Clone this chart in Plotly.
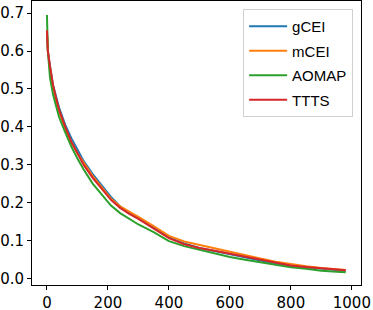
import plotly.graph_objects as go

iterations = [0, 3, 10, 20, 30, 40, 60, 80, 100, 120, 150, 180, 210, 240, 270, 300,
              350, 400, 450, 500, 550, 600, 650, 700, 750, 800, 850, 900, 950, 980]

gcei = [0.645, 0.60, 0.56, 0.51, 0.48, 0.45, 0.405, 0.37, 0.34, 0.31, 0.275, 0.245,
        0.215, 0.19, 0.172, 0.158, 0.133, 0.108, 0.092, 0.080, 0.072, 0.063, 0.055,
        0.047, 0.040, 0.033, 0.029, 0.025, 0.022, 0.020]
mcei = [0.65, 0.60, 0.555, 0.505, 0.47, 0.44, 0.395, 0.36, 0.33, 0.305, 0.27, 0.24,
        0.21, 0.19, 0.175, 0.162, 0.138, 0.112, 0.097, 0.088, 0.077, 0.069, 0.060,
        0.052, 0.044, 0.037, 0.032, 0.027, 0.024, 0.022]
aomap = [0.695, 0.60, 0.53, 0.485, 0.455, 0.425, 0.385, 0.348, 0.316, 0.288, 0.25, 0.22,
         0.192, 0.172, 0.156, 0.142, 0.122, 0.098, 0.085, 0.075, 0.065, 0.056, 0.049,
         0.042, 0.035, 0.029, 0.025, 0.020, 0.017, 0.016]
ttts = [0.655, 0.60, 0.56, 0.51, 0.475, 0.445, 0.40, 0.36, 0.33, 0.30, 0.265, 0.235,
        0.207, 0.186, 0.17, 0.157, 0.132, 0.106, 0.090, 0.080, 0.073, 0.065, 0.056,
        0.049, 0.041, 0.034, 0.030, 0.026, 0.023, 0.021]

series = [("gCEI", gcei, "#1f77b4"), ("mCEI", mcei, "#ff7f0e"),
          ("AOMAP", aomap, "#2ca02c"), ("TTTS", ttts, "#d62728")]

fig = go.Figure()
for name, vals, color in series:
    fig.add_trace(go.Scatter(x=iterations, y=vals, mode="lines", name=name,
                             legendgroup=name,
                             line=dict(color=color, width=2)))

axis_common = dict(showline=True, linecolor="black", linewidth=1, mirror=True,
                   ticks="outside", ticklen=4, tickcolor="black", showgrid=False,
                   zeroline=False, automargin=False,
                   tickfont=dict(family="DejaVu Sans", size=15, color="black"))

fig.update_layout(
    width=373, height=310,
    margin=dict(l=32, r=12, t=1, b=25),
    plot_bgcolor="white", paper_bgcolor="white",
    xaxis=dict(range=[-49, 1030], tickvals=[0, 200, 400, 600, 800, 1000], **axis_common),
    yaxis=dict(range=[-0.0177, 0.732], tickvals=[0, 0.1, 0.2, 0.3, 0.4, 0.5, 0.6, 0.7],
               tickformat=".1f", **axis_common),
    legend=dict(x=0.976, y=0.972, xanchor="right", yanchor="top",
                bgcolor="white", bordercolor="#d0d0d0", borderwidth=1,
                font=dict(family="Liberation Sans", size=15, color="black"),
                itemwidth=38, tracegroupgap=2),
    showlegend=True,
)

fig.write_html("out.html", config={"displayModeBar": False},
               post_script="document.body.style.margin='0';document.documentElement.style.overflow='hidden';")
